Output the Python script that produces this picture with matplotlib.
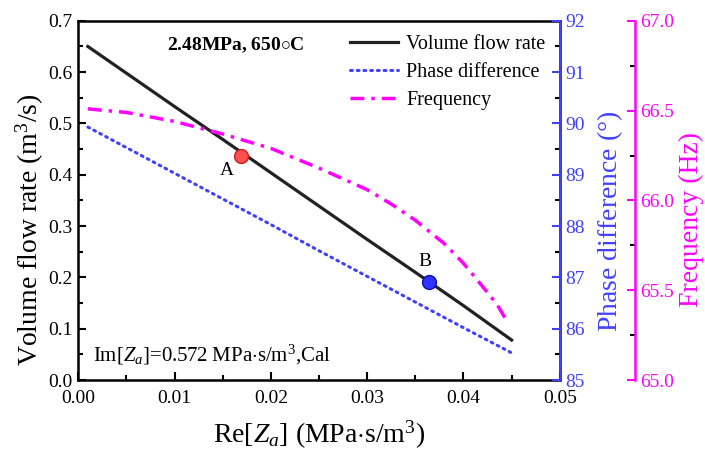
import numpy as np
import matplotlib
matplotlib.use('Agg')
import matplotlib.pyplot as plt

plt.rcParams['font.family'] = 'Liberation Serif'
plt.rcParams['mathtext.fontset'] = 'custom'
plt.rcParams['mathtext.rm'] = 'Liberation Serif'
plt.rcParams['mathtext.it'] = 'Liberation Serif:italic'
plt.rcParams['mathtext.bf'] = 'Liberation Serif:bold'

# data
re_za = [0.001, 0.005, 0.010, 0.015, 0.020, 0.025, 0.030, 0.035, 0.040, 0.045]
flow_rate = [0.650, 0.598, 0.533, 0.469, 0.404, 0.339, 0.274, 0.210, 0.145, 0.078]
phase_diff = [89.93, 89.53, 89.03, 88.53, 88.03, 87.52, 87.02, 86.52, 86.02, 85.53]
re_za_f = [0.001, 0.005, 0.010, 0.015, 0.020, 0.025, 0.030, 0.0325, 0.035, 0.038,
           0.040, 0.042, 0.0435, 0.0446]
frequency = [66.51, 66.49, 66.44, 66.37, 66.29, 66.18, 66.06, 65.98, 65.89, 65.76,
             65.65, 65.52, 65.42, 65.32]
point_a = (0.0169, 0.437)
point_b = (0.0364, 0.192)

BLUE = '#4040ff'
PINK = '#ff00ff'

fig, ax = plt.subplots(figsize=(7.05, 4.53), dpi=100)
fig.subplots_adjust(left=0.111, right=0.794, bottom=0.161, top=0.954)
ax2 = ax.twinx()
ax3 = ax.twinx()
ax3.spines['right'].set_position(('outward', 54))

l1, = ax.plot(re_za, flow_rate, color='#222222', linewidth=2.3, label='Volume flow rate')
l2, = ax2.plot(re_za, phase_diff, color=BLUE, linewidth=2.2, linestyle=(0, (0.6, 1.6)),
               dash_capstyle='round', label='Phase difference')
l3, = ax3.plot(re_za_f, frequency, color=PINK, linewidth=2.5, linestyle=(0, (4, 2, 1, 2)),
               label='Frequency')

ax.plot(*point_a, 'o', markersize=10, color='#ff5050', markeredgecolor='#cc2020', zorder=5)
ax.plot(*point_b, 'o', markersize=10, color='#3030ff', markeredgecolor='#1010aa', zorder=5)
ax.text(point_a[0] - 0.0007, point_a[1] - 0.012, 'A', fontsize=14, ha='right', va='top')
ax.text(point_b[0] - 0.0004, point_b[1] + 0.022, 'B', fontsize=14, ha='center', va='bottom')

ax.set_xlim(0, 0.05)
ax.set_ylim(0, 0.7)
ax2.set_ylim(85, 92)
ax3.set_ylim(65, 67)

ax.set_xticks(np.arange(0, 0.051, 0.01))
ax.set_xticks(np.arange(0, 0.051, 0.005), minor=True)
ax.set_xticklabels(['0.00', '0.01', '0.02', '0.03', '0.04', '0.05'])
ax.set_yticks(np.arange(0, 0.71, 0.1))
ax.set_yticks(np.arange(0, 0.71, 0.05), minor=True)
ax.set_yticklabels(['%.1f' % v for v in np.arange(0, 0.71, 0.1)])
ax2.set_yticks(range(85, 93))
ax2.set_yticks(np.arange(85, 92.1, 0.5), minor=True)
ax3.set_yticks([65.0, 65.5, 66.0, 66.5, 67.0])
ax3.set_yticks(np.arange(65, 67.01, 0.25), minor=True)
ax3.set_yticklabels(['65.0', '65.5', '66.0', '66.5', '67.0'])

for a in (ax, ax2, ax3):
    a.tick_params(which='major', direction='in', length=6, width=1.5, labelsize=14)
    a.tick_params(which='minor', direction='in', length=3.5, width=1.5)
    for s in a.spines.values():
        s.set_linewidth(1.8)

ax.tick_params(axis='x', pad=7)
ax.tick_params(axis='y', pad=4)
ax2.tick_params(axis='y', colors=BLUE, pad=4)
ax3.tick_params(axis='y', colors=PINK, pad=4)
ax2.spines['right'].set_color(BLUE)
ax3.spines['right'].set_color(PINK)
for a in (ax2, ax3):
    a.spines['left'].set_visible(False)
    a.spines['top'].set_visible(False)
    a.spines['bottom'].set_visible(False)

ax.set_xlabel('Re[$Z_a$] (MPa$\\cdot$s/m$^3$)', fontsize=20, labelpad=8.5)
ax.set_ylabel('Volume flow rate (m$^3$/s)', fontsize=20)
ax2.set_ylabel('Phase difference ($\\degree$)', fontsize=20, color=BLUE)
ax3.set_ylabel('Frequency (Hz)', fontsize=20, color=PINK)
ax.yaxis.set_label_coords(-0.068, 0.418)
ax2.yaxis.set_label_coords(1.073, 0.443)
ax3.yaxis.set_label_coords(1.247, 0.446)

ax.text(0.185, 0.933, '2.48MPa, 650$\\circ$C', transform=ax.transAxes, fontsize=14,
        fontweight='bold', va='center')
ax.text(0.031, 0.07, 'Im[$Z_a$]=0.572 MPa$\\cdot$s/m$^3$,Cal', transform=ax.transAxes,
        fontsize=15, va='center')

ax.legend(handles=[l1, l2, l3], loc='upper right', frameon=False, fontsize=14.5,
          handlelength=2.4, handletextpad=0.4, borderaxespad=0.3, labelspacing=0.45,
          bbox_to_anchor=(1.0, 1.0))

fig.savefig('out.png', dpi=100)
